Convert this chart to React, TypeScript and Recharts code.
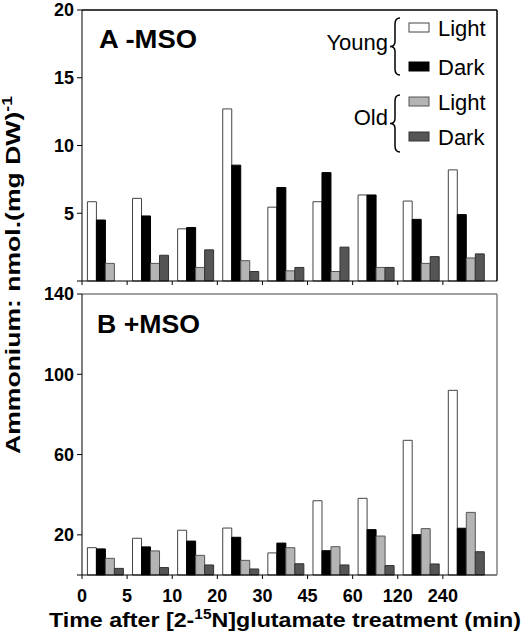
import { BarChart, Bar, XAxis, YAxis, Legend } from 'recharts'

const times = ['0', '5', '10', '20', '30', '45', '60', '120', '240']

// panel A (-MSO)
const youngLightA = [5.85, 6.1, 3.85, 12.7, 5.45, 5.85, 6.35, 5.9, 8.2]
const youngDarkA = [4.5, 4.8, 3.95, 8.55, 6.9, 8.0, 6.35, 4.55, 4.9]
const oldLightA = [1.3, 1.3, 1.0, 1.5, 0.75, 0.7, 1.0, 1.3, 1.7]
const oldDarkA = [null, 1.9, 2.3, 0.7, 1.0, 2.5, 1.0, 1.8, 2.0]

// panel B (+MSO)
const youngLightB = [13.6, 18.3, 22.3, 23.4, 11.0, 37.0, 38.2, 67.1, 92.0]
const youngDarkB = [13.0, 14.0, 16.9, 18.8, 15.9, 12.1, 22.6, 20.1, 23.3]
const oldLightB = [8.3, 12.0, 9.8, 7.3, 13.6, 14.1, 19.4, 23.1, 31.2]
const oldDarkB = [3.3, 3.7, 5.0, 3.0, 5.6, 5.0, 4.7, 5.5, 11.6]

const ticksA = [0, 5, 10, 15, 20]
const ticksB = [0, 20, 60, 100, 140]

const series = [
  { key: 'yl', name: 'Light', fill: '#ffffff', stroke: '#444444' },
  { key: 'yd', name: 'Dark', fill: '#000000', stroke: '#000000' },
  { key: 'ol', name: 'Light', fill: '#b4b4b4', stroke: '#555555' },
  { key: 'od', name: 'Dark', fill: '#555555', stroke: '#333333' },
]

const dataA = times.map((t, i) => ({
  t,
  yl: youngLightA[i],
  yd: youngDarkA[i],
  ol: oldLightA[i],
  od: oldDarkA[i],
}))

const dataB = times.map((t, i) => ({
  t,
  yl: youngLightB[i],
  yd: youngDarkB[i],
  ol: oldLightB[i],
  od: oldDarkB[i],
}))

const FONT = '"Liberation Sans", Arial, sans-serif'
const PLOT_W = 415
const PAD_R = 9
const BAND = (PLOT_W - PAD_R) / times.length

// ticks sit on the left edge of each group, like the original figure
const EdgeTick = (props: any) => {
  const { x, y, payload, showLabel } = props
  const bx = x - BAND / 2
  return (
    <g>
      <line x1={bx} x2={bx} y1={y - 4} y2={y} stroke="#000" />
      {showLabel && (
        <text
          x={bx}
          y={y + 23}
          textAnchor="middle"
          fontSize={18}
          fontWeight="bold"
          fontFamily={FONT}
          fill="#000"
        >
          {payload.value}
        </text>
      )}
    </g>
  )
}

const LegendBox = () => {
  const brace = (x: number, top: number, bot: number) => {
    const mid = (top + bot) / 2
    return `M ${x + 6} ${top} Q ${x + 1} ${top} ${x + 1} ${top + 6} L ${x + 1} ${mid - 5} Q ${x + 1} ${mid} ${x - 4} ${mid} Q ${x + 1} ${mid} ${x + 1} ${mid + 5} L ${x + 1} ${bot - 6} Q ${x + 1} ${bot} ${x + 6} ${bot}`
  }
  const rows = [28, 67, 102, 137]
  return (
    <svg width={531} height={160} style={{ display: 'block' }}>
      <text x={388} y={50} textAnchor="end" fontSize={22} fontFamily={FONT}>Young</text>
      <text x={388} y={125} textAnchor="end" fontSize={22} fontFamily={FONT}>Old</text>
      <path d={brace(394, 18, 75)} fill="none" stroke="#000" strokeWidth={1.5} />
      <path d={brace(394, 95, 152)} fill="none" stroke="#000" strokeWidth={1.5} />
      {series.map((s, i) => (
        <g key={s.key}>
          <rect x={409} y={rows[i] - 5} width={20} height={9} fill={s.fill} stroke={s.stroke} />
          <text x={438} y={rows[i] + 7.5} fontSize={22} fontFamily={FONT}>{s.name}</text>
        </g>
      ))}
    </svg>
  )
}

const Panel = ({ data, ticks, max, frame, height, top, axisH, showLabels, legend }: any) => (
  <BarChart
    width={531}
    height={height}
    data={data}
    margin={{ top, right: 33, left: 0, bottom: 0 }}
    barCategoryGap="12%"
    barGap={0}
  >
    <XAxis
      dataKey="t"
      height={axisH}
      padding={{ left: 0, right: PAD_R }}
      axisLine={{ stroke: '#000' }}
      tickLine={{ stroke: 'none' }}
      tickSize={4}
      tickMargin={0}
      interval={0}
      tick={<EdgeTick showLabel={showLabels} />}
    />
    <XAxis
      xAxisId="frame"
      orientation="top"
      dataKey="t"
      height={1}
      tick={false}
      tickLine={false}
      axisLine={{ stroke: frame, strokeWidth: 1.5 }}
    />
    <YAxis
      width={82}
      domain={[0, max]}
      ticks={ticks}
      interval={0}
      tickFormatter={(v: number) => (v === 0 ? '' : String(v))}
      axisLine={{ stroke: '#000' }}
      tickLine={{ stroke: '#000' }}
      tickSize={5}
      tickMargin={3}
      tick={{ fill: '#000', fontSize: 18, fontWeight: 'bold', fontFamily: FONT }}
    />
    <YAxis
      yAxisId="frame"
      orientation="right"
      width={1}
      type="number"
      domain={[0, 1]}
      tick={false}
      tickLine={false}
      axisLine={{ stroke: frame, strokeWidth: 1.5 }}
    />
    {series.map((s) => (
      <Bar
        key={s.key}
        dataKey={s.key}
        name={s.name}
        fill={s.fill}
        stroke={s.stroke}
        strokeWidth={1}
        isAnimationActive={false}
      />
    ))}
    {legend && (
      <Legend
        layout="vertical"
        align="center"
        verticalAlign="middle"
        wrapperStyle={{ left: 0, top: 0, width: 531, height: 160 }}
        content={() => <LegendBox />}
      />
    )}
  </BarChart>
)

export default function App() {
  return (
    <div
      style={{
        position: 'absolute',
        left: 0,
        top: 0,
        width: 531,
        height: 643,
        background: '#fff',
        fontFamily: FONT,
      }}
    >
      <div style={{ position: 'absolute', left: 0, top: 0 }}>
        <Panel data={dataA} ticks={ticksA} max={20} frame="#000" height={292} top={9} axisH={11} showLabels={false} legend />
      </div>
      <div style={{ position: 'absolute', left: 0, top: 284 }}>
        <Panel data={dataB} ticks={ticksB} max={140} frame="#808080" height={326} top={9} axisH={35} showLabels />
      </div>
      <svg
        width={531}
        height={643}
        style={{ position: 'absolute', left: 0, top: 0, pointerEvents: 'none' }}
        fontFamily={FONT}
        fontWeight="bold"
      >
        <text x={99} y={48} fontSize={25} textLength={98} lengthAdjust="spacingAndGlyphs">A -MSO</text>
        <text x={97} y={333} fontSize={25} textLength={103} lengthAdjust="spacingAndGlyphs">B +MSO</text>
        <text
          x={-275}
          y={20}
          transform="rotate(-90)"
          textAnchor="middle"
          fontSize={21}
          textLength={358}
          lengthAdjust="spacingAndGlyphs"
        >
          Ammonium: nmol.(mg DW)<tspan dy={-8} fontSize={14}>-1</tspan>
        </text>
        <text
          x={285}
          y={627}
          textAnchor="middle"
          fontSize={21}
          textLength={472}
          lengthAdjust="spacingAndGlyphs"
        >
          Time after [2-<tspan dy={-8} fontSize={14}>15</tspan><tspan dy={8}>N]glutamate treatment (min)</tspan>
        </text>
      </svg>
    </div>
  )
}
